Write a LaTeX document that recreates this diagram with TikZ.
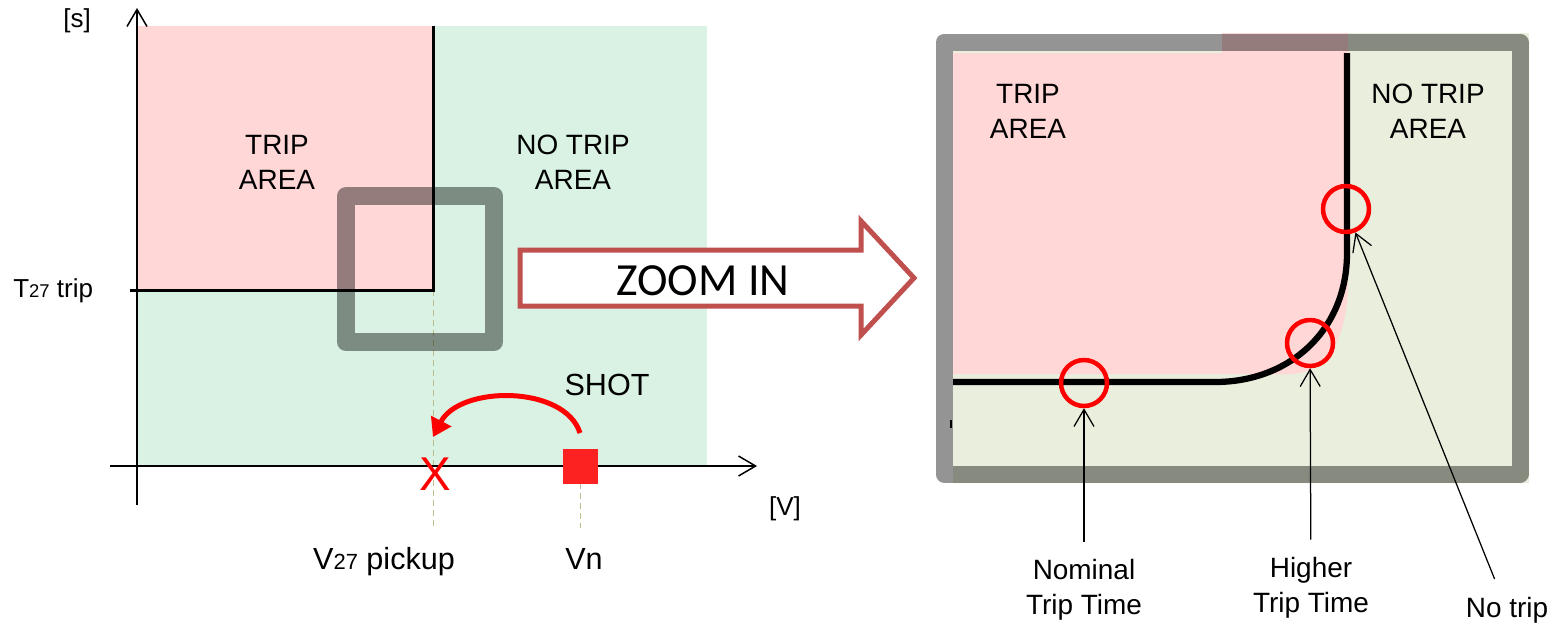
\documentclass[tikz,border=0pt]{standalone}
\usepackage{fontspec}
\setmainfont{Liberation Sans}
\newfontfamily\zoomfont{Carlito}
\usetikzlibrary{positioning,arrows.meta}
\definecolor{tripred}{RGB}{255,215,215}
\definecolor{notripgreen}{RGB}{217,242,227}
\definecolor{zoomgreen}{RGB}{234,238,220}
\definecolor{zoomred}{RGB}{192,80,77}
\definecolor{shotred}{RGB}{252,34,34}
\definecolor{guide}{RGB}{190,190,140}

\begin{document}
\begin{tikzpicture}[x=0.02cm, y=-0.02cm,
  txt/.style={font=\fontsize{15.9}{19.9}\selectfont, align=center, inner sep=0pt},
  note/.style={txt, outer sep=0.36cm},
  axlbl/.style={font=\fontsize{14.8}{17}\selectfont, inner sep=0pt},
  biglbl/.style={font=\fontsize{17.4}{20}\selectfont, inner sep=0pt},
  axis/.style={line width=0.03cm, -{Straight Barb[length=0.34cm, width=0.4cm]}},
  pointer/.style={line width=0.025cm, -{Straight Barb[length=0.34cm, width=0.4cm]}},
  lens/.style={draw=black, draw opacity=0.42, line join=round},
  hit/.style={circle, draw=red, line width=0.09cm, minimum size=0.92cm, inner sep=0pt},
  guideline/.style={guide, line width=0.02cm, dash pattern=on 0.12cm off 0.08cm}
]
  \useasboundingbox (0,0) rectangle (1556,627);

  % left: characteristic
  \fill[notripgreen] (137,26) rectangle (707,466);
  \fill[tripred] (137,26) rectangle (433,290);
  \draw[guideline] (433,290) -- (433,528);
  \draw[guideline] (580,483) -- (580,528);
  \draw[line width=0.06cm] (130,290) -- (433,290) -- (433,26);
  \draw[lens, line width=0.36cm] (346,196) rectangle (494,342);
  \draw[axis] (137,505) -- (137,8);
  \draw[axis] (110,466) -- (757,466);

  \node[axlbl] (sec) at (77,21) {[s]};
  \node[axlbl, anchor=base west] (ttrip) at (13,297) {T{\fontsize{10.5}{12}\selectfont 27} trip};
  \node[axlbl] (volt) at (785,509) {[V]};
  \node[txt] (trip) at (277,162) {TRIP\\AREA};
  \node[txt] (notrip) at (573,162) {NO TRIP\\AREA};
  \node[biglbl, anchor=base] (pick) at (384,569) {V{\fontsize{12.5}{14}\selectfont 27} pickup};
  \node[biglbl, anchor=base] (vnlbl) at (584,569) {Vn};
  \node[biglbl, anchor=base] (shot) at (607,395) {SHOT};
  \node[text=red, font=\fontsize{27}{30}\selectfont, inner sep=0pt, anchor=base] (cross) at (435,490) {X};
  \node[fill=shotred, minimum size=0.7cm, inner sep=0pt] (vn) at (580,466) {};
  \coordinate (shotstart) at (580,433);
  \coordinate (shotend) at (433,437);
  \draw[red, line width=0.1cm, -{Triangle[length=0.36cm, width=0.44cm]}]
    (shotstart) .. controls (565,385) and (460,385) .. (shotend);

  % zoom arrow
  \draw[zoomred, line width=0.1cm, fill=white, line join=miter]
    (520,250) -- (861,250) -- (861,221) -- (914,278) -- (861,335) -- (861,306) -- (520,306) -- cycle;
  \node[font=\zoomfont\fontsize{26.2}{30}\selectfont, anchor=base, inner sep=0pt] (zoomtxt) at (703,295) {ZOOM IN};

  % right: zoomed corner
  \fill[zoomgreen] (953,51) -- (1348,51) -- (1348,33) -- (1529,33) -- (1529,483) -- (953,483) -- cycle;
  \fill[tripred] (953,53) -- (1222,53) -- (1222,33) -- (1348,33) -- (1348,280)
    .. controls (1348,335) and (1330,374) .. (1288,374) -- (953,374) -- cycle;
  \draw[line width=0.125cm] (953,382) -- (1215,382) .. controls (1290,382) and (1347,330) .. (1347,253) -- (1347,53);
  \draw[line width=0.04cm] (951,420) -- (951,428);
  \draw[lens, line width=0.34cm] (944,42) rectangle (1520,474);

  \node[hit] (nom) at (1084,383) {};
  \node[hit] (high) at (1310,343) {};
  \node[hit] (none) at (1346,209) {};

  \node[txt] (tripz) at (1028,111) {TRIP\\AREA};
  \node[txt] (notripz) at (1428,111) {NO TRIP\\AREA};
  \node[note] (nomlbl) at (1084,590) {Nominal\\Trip Time};
  \node[note] (highlbl) at (1311,588) {Higher\\Trip Time};
  \node[note] (nonelbl) at (1507,610) {No trip};

  \draw[pointer] (nomlbl) -- (nom);
  \draw[pointer] (highlbl) -- (high);
  \draw[pointer] (nonelbl) -- (none);
\end{tikzpicture}
\end{document}
